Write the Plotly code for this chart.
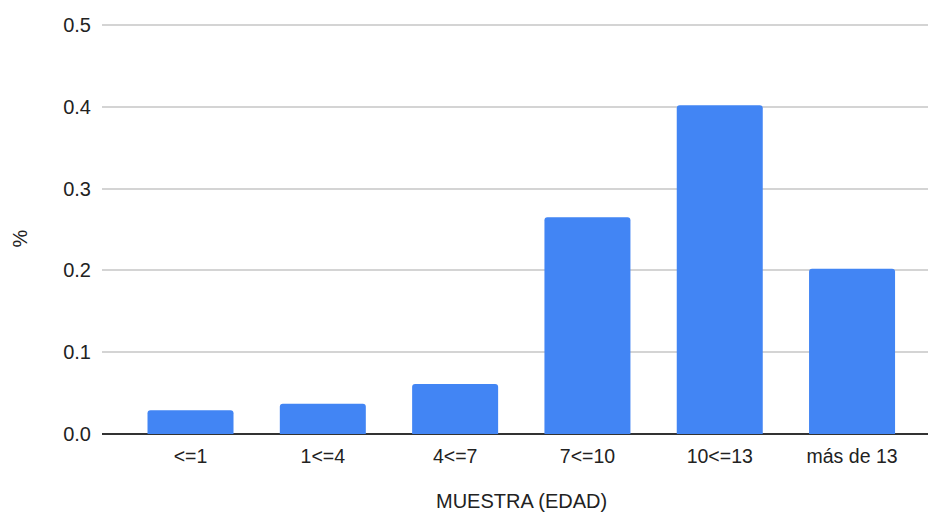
import plotly.graph_objects as go

# Age-group shares of the sample
categories = ["<=1", "1<=4", "4<=7", "7<=10", "10<=13", "más de 13"]
shares = [0.029, 0.037, 0.061, 0.265, 0.402, 0.202]
y_ticks = [0.0, 0.1, 0.2, 0.3, 0.4, 0.5]
y_tick_labels = ["0.0", "0.1", "0.2", "0.3", "0.4", "0.5"]

FONT = "Liberation Sans, Arial, sans-serif"
TEXT = "#222222"

fig = go.Figure(
    go.Bar(
        x=list(range(len(categories))),
        y=shares,
        marker=dict(color="#4285F4", line=dict(width=0)),
        hoverinfo="x+y",
    )
)

fig.update_layout(
    width=928,
    height=512,
    margin=dict(l=102, r=0, t=23, b=78),
    paper_bgcolor="white",
    plot_bgcolor="white",
    bargap=0.35,
    barcornerradius=3,
    showlegend=False,
    font=dict(family=FONT, color=TEXT, size=19),
)

fig.update_xaxes(
    tickmode="array",
    tickvals=list(range(len(categories))),
    ticktext=categories,
    range=[-0.669, 5.574],
    showgrid=False,
    showline=False,
    zeroline=False,
    ticks="",
    ticklabelstandoff=8,
    tickfont=dict(size=19.5, color=TEXT, family=FONT),
)

fig.update_yaxes(
    range=[0, 0.5025],
    tickmode="array",
    tickvals=y_ticks,
    ticktext=y_tick_labels,
    showgrid=True,
    gridcolor="#d4d4d4",
    gridwidth=1.5,
    zeroline=True,
    zerolinecolor="#333333",
    zerolinewidth=1.5,
    showline=False,
    ticks="",
    ticklabelstandoff=10,
    tickfont=dict(size=20, color=TEXT, family=FONT),
)

fig.add_annotation(
    text="MUESTRA (EDAD)",
    xref="paper", yref="paper",
    x=(521 - 102) / 826, y=-(501 - 434.5) / 411,
    xanchor="center", yanchor="middle",
    showarrow=False,
    font=dict(size=20, color=TEXT, family=FONT),
)

fig.add_annotation(
    text="%",
    xref="paper", yref="paper",
    x=-(102 - 19) / 826, y=(434.5 - 239) / 411,
    xanchor="center", yanchor="middle",
    textangle=-90,
    showarrow=False,
    font=dict(size=20, color=TEXT, family=FONT),
)

fig.write_html("out.html")
